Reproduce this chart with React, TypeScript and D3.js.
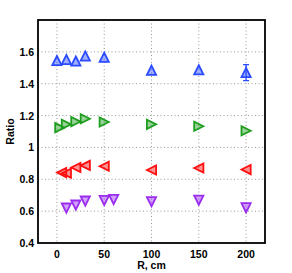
import React, { useRef, useEffect } from "react";
import * as d3 from "d3";

// R positions (cm) and ratio values per series
const blueR = [0, 10, 20, 30, 50, 100, 150, 200];
const blueRatio = [1.545, 1.552, 1.542, 1.574, 1.566, 1.485, 1.487, 1.47];
const blueErr = [0, 0, 0, 0, 0, 0, 0, 0.05];

const greenR = [3, 10, 20, 30, 50, 100, 150, 200];
const greenRatio = [1.124, 1.145, 1.162, 1.18, 1.16, 1.145, 1.133, 1.105];

const redR = [5, 10, 20, 30, 50, 100, 150, 200];
const redRatio = [0.842, 0.838, 0.874, 0.887, 0.882, 0.858, 0.871, 0.861];

const purpleR = [10, 20, 30, 50, 60, 100, 150, 200];
const purpleRatio = [0.619, 0.638, 0.663, 0.667, 0.673, 0.659, 0.669, 0.621];

const xTicks = [0, 50, 100, 150, 200];
const yTicks = [0.4, 0.6, 0.8, 1, 1.2, 1.4, 1.6];

const W = 292;
const H = 273;

const App = () => {
  const ref = useRef<SVGSVGElement>(null);

  useEffect(() => {
    if (!ref.current) return;
    const svg = d3.select(ref.current);
    svg.selectAll("*").remove();

    const margin = { left: 38, right: 27, top: 20, bottom: 30 };
    const x = d3.scaleLinear().domain([-20, 220]).range([margin.left, W - margin.right]);
    const y = d3.scaleLinear().domain([0.4, 1.8]).range([H - margin.bottom, margin.top]);
    const font = "'Liberation Sans', Arial, sans-serif";

    // dotted grid
    const grid = svg.append("g").attr("stroke", "#999").attr("stroke-width", 1)
      .attr("stroke-dasharray", "1,2.5");
    grid.selectAll(".gx").data(xTicks).join("line")
      .attr("x1", (d) => x(d)).attr("x2", (d) => x(d))
      .attr("y1", y.range()[1]).attr("y2", y.range()[0]);
    grid.selectAll(".gy").data(yTicks.filter((d) => d > 0.4)).join("line")
      .attr("y1", (d) => y(d)).attr("y2", (d) => y(d))
      .attr("x1", x.range()[0]).attr("x2", x.range()[1]);

    // triangle markers, centred on their bounding box
    const s = 4.6;
    const shapes: Record<string, string> = {
      up: `M0,${-s}L${s},${s}L${-s},${s}Z`,
      down: `M0,${s}L${s},${-s}L${-s},${-s}Z`,
      left: `M${-s},0L${s},${-s}L${s},${s}Z`,
      right: `M${s},0L${-s},${-s}L${-s},${s}Z`,
    };

    const series = [
      { r: blueR, v: blueRatio, err: blueErr, color: "#2b4bff", shape: "up" },
      { r: greenR, v: greenRatio, err: null, color: "#1f9e1f", shape: "right" },
      { r: redR, v: redRatio, err: null, color: "#ff1010", shape: "left" },
      { r: purpleR, v: purpleRatio, err: null, color: "#9a2cf0", shape: "down" },
    ];

    series.forEach((ser) => {
      const g = svg.append("g");
      if (ser.err) {
        const errs = ser.r.map((r, i) => ({ r, v: ser.v[i], e: ser.err![i] })).filter((d) => d.e > 0);
        errs.forEach((d) => {
          const cx = x(d.r);
          const y0 = y(d.v - d.e);
          const y1 = y(d.v + d.e);
          g.append("path")
            .attr("d", `M${cx},${y0}V${y1}M${cx - 3},${y0}H${cx + 3}M${cx - 3},${y1}H${cx + 3}`)
            .attr("stroke", ser.color).attr("stroke-width", 1.3).attr("fill", "none");
        });
      }
      g.selectAll("path.m")
        .data(ser.r.map((r, i) => ({ r, v: ser.v[i] })))
        .join("path")
        .attr("class", "m")
        .attr("transform", (d) => `translate(${x(d.r)},${y(d.v)})`)
        .attr("d", shapes[ser.shape])
        .attr("fill", ser.color)
        .attr("fill-opacity", 0.45)
        .attr("stroke", ser.color)
        .attr("stroke-width", 1.8)
        .attr("stroke-linejoin", "miter");
    });

    // axes box
    svg.append("rect")
      .attr("x", x.range()[0]).attr("y", y.range()[1])
      .attr("width", x.range()[1] - x.range()[0])
      .attr("height", y.range()[0] - y.range()[1])
      .attr("fill", "none").attr("stroke", "#000").attr("stroke-width", 1.8);

    // tick labels
    svg.append("g").selectAll("text").data(xTicks).join("text")
      .attr("x", (d) => x(d)).attr("y", y.range()[0] + 15)
      .attr("text-anchor", "middle")
      .attr("font-family", font).attr("font-weight", "bold").attr("font-size", 10.5)
      .text((d) => d3.format("d")(d));

    svg.append("g").selectAll("text").data(yTicks).join("text")
      .attr("x", x.range()[0] - 4).attr("y", (d) => y(d) + 4)
      .attr("text-anchor", "end")
      .attr("font-family", font).attr("font-weight", "bold").attr("font-size", 10.5)
      .text((d) => (d === 1 ? "1" : d3.format(".1f")(d)));

    svg.append("text")
      .attr("x", (x.range()[0] + x.range()[1]) / 2).attr("y", H - 4)
      .attr("text-anchor", "middle")
      .attr("font-family", font).attr("font-weight", "bold").attr("font-size", 10.5)
      .text("R, cm");

    svg.append("text")
      .attr("transform", `translate(14,${(y.range()[0] + y.range()[1]) / 2}) rotate(-90)`)
      .attr("text-anchor", "middle")
      .attr("font-family", font).attr("font-weight", "bold").attr("font-size", 10.5)
      .text("Ratio");
  }, []);

  return (
    <svg
      ref={ref}
      width={W}
      height={H}
      style={{ position: "absolute", left: 0, top: 0, background: "#fff" }}
    />
  );
};

export default App;
